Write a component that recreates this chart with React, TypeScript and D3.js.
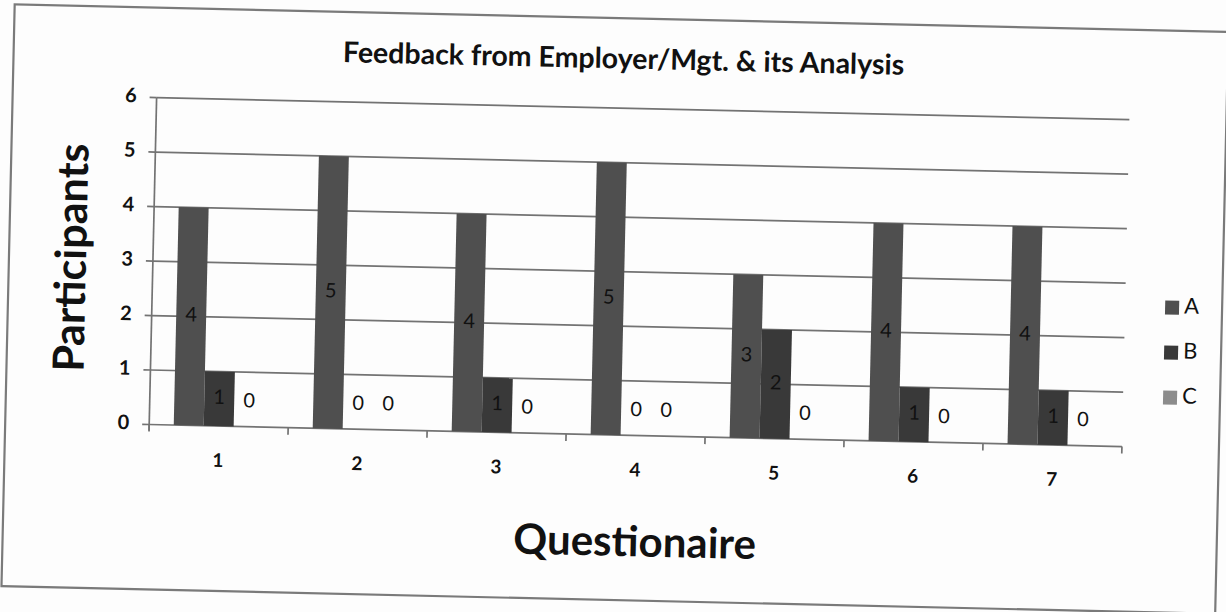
import React from "react";
import * as d3 from "d3";

const categories = ["1", "2", "3", "4", "5", "6", "7"];
const seriesNames = ["A", "B", "C"];
const seriesA = [4, 5, 4, 5, 3, 4, 4];
const seriesB = [1, 0, 1, 0, 2, 1, 1];
const seriesC = [0, 0, 0, 0, 0, 0, 0];
const yTicks = [0, 1, 2, 3, 4, 5, 6];
const colors = ["#4f4f4f", "#393939", "#8c8c8c"];

const W = 1226;
const H = 612;
const M = { left: 152, right: 1125, top: 108, bottom: 435 };
const FONT = "Lato, 'Open Sans', 'DejaVu Sans', sans-serif";

export default function App() {
  const allSeries = [seriesA, seriesB, seriesC];
  const x = d3.scaleBand<string>().domain(categories).range([M.left, M.right]).padding(0);
  const sub = d3
    .scaleBand<string>()
    .domain(seriesNames)
    .range([0, x.bandwidth()])
    .paddingInner(0)
    .paddingOuter(0.82);
  const y = d3.scaleLinear().domain([0, 6]).range([M.bottom, M.top]);
  const boundaries = d3.range(categories.length + 1).map((i) => M.left + i * x.step());

  return (
    <svg
      width={W}
      height={H}
      style={{ position: "absolute", left: 0, top: 0, background: "#fdfdfd" }}
    >
      <g transform={`rotate(1.3 613 306)`}>
        <rect x={8} y={18} width={1214} height={582} fill="#fdfdfd" stroke="#7a7a7a" strokeWidth={2.2} />
        <text
          x={618}
          y={61}
          textAnchor="middle"
          dominantBaseline="middle"
          fontFamily={FONT}
          fontWeight="bold"
          fontSize={28.5}
          fill="#111"
        >
          Feedback from Employer/Mgt. &amp; its Analysis
        </text>
        {/* gridlines */}
        {yTicks.map((t) => (
          <g key={"g" + t}>
            <line x1={M.left} x2={M.right} y1={y(t)} y2={y(t)} stroke="#737373" strokeWidth={1.7} />
            <line x1={M.left - 7} x2={M.left} y1={y(t)} y2={y(t)} stroke="#737373" strokeWidth={1.7} />
            <text
              x={M.left - 20}
              y={y(t)}
              textAnchor="end"
              dominantBaseline="middle"
              fontFamily={FONT}
              fontWeight="bold"
              fontSize={20}
              fill="#111"
            >
              {t}
            </text>
          </g>
        ))}
        <line x1={M.left} x2={M.left} y1={M.top} y2={M.bottom + 6} stroke="#737373" strokeWidth={1.7} />
        {boundaries.map((bx, i) => (
          <line key={"b" + i} x1={bx} x2={bx} y1={M.bottom} y2={M.bottom + 7} stroke="#737373" strokeWidth={1.7} />
        ))}
        {/* bars */}
        {categories.map((c, ci) => (
          <g key={c} transform={`translate(${x(c)},0)`}>
            {seriesNames.map((s, si) => {
              const v = allSeries[si][ci];
              const bx = sub(s) as number;
              return (
                <g key={s}>
                  <rect
                    x={bx}
                    y={y(v)}
                    width={sub.bandwidth()}
                    height={y(0) - y(v)}
                    fill={colors[si]}
                  />
                  <text
                    x={bx + sub.bandwidth() / 2}
                    y={y(Math.max(v / 2, 0.45))}
                    textAnchor="middle"
                    dominantBaseline="middle"
                    fontFamily={FONT}
                    fontSize={20}
                    fill="#111"
                  >
                    {v}
                  </text>
                </g>
              );
            })}
            <text
              x={x.bandwidth() / 2}
              y={M.bottom + 36}
              textAnchor="middle"
              dominantBaseline="middle"
              fontFamily={FONT}
              fontWeight="bold"
              fontSize={19}
              fill="#111"
            >
              {c}
            </text>
          </g>
        ))}
        {/* axis titles */}
        <text
          x={640}
          y={545}
          textAnchor="middle"
          dominantBaseline="middle"
          fontFamily={FONT}
          fontWeight="bold"
          fontSize={42}
          fill="#111"
        >
          Questionaire
        </text>
        <text
          transform={`translate(74,270) rotate(-90)`}
          textAnchor="middle"
          dominantBaseline="middle"
          fontFamily={FONT}
          fontWeight="bold"
          fontSize={43}
          fill="#111"
        >
          Participants
        </text>
        {/* legend */}
        {seriesNames.map((s, i) => (
          <g key={"l" + s} transform={`translate(1165,${295 + i * 45})`}>
            <rect x={0} y={-7} width={14} height={14} fill={colors[i]} />
            <text x={19} y={0} dominantBaseline="middle" fontFamily={FONT} fontSize={22} fill="#111">
              {s}
            </text>
          </g>
        ))}
      </g>
    </svg>
  );
}
